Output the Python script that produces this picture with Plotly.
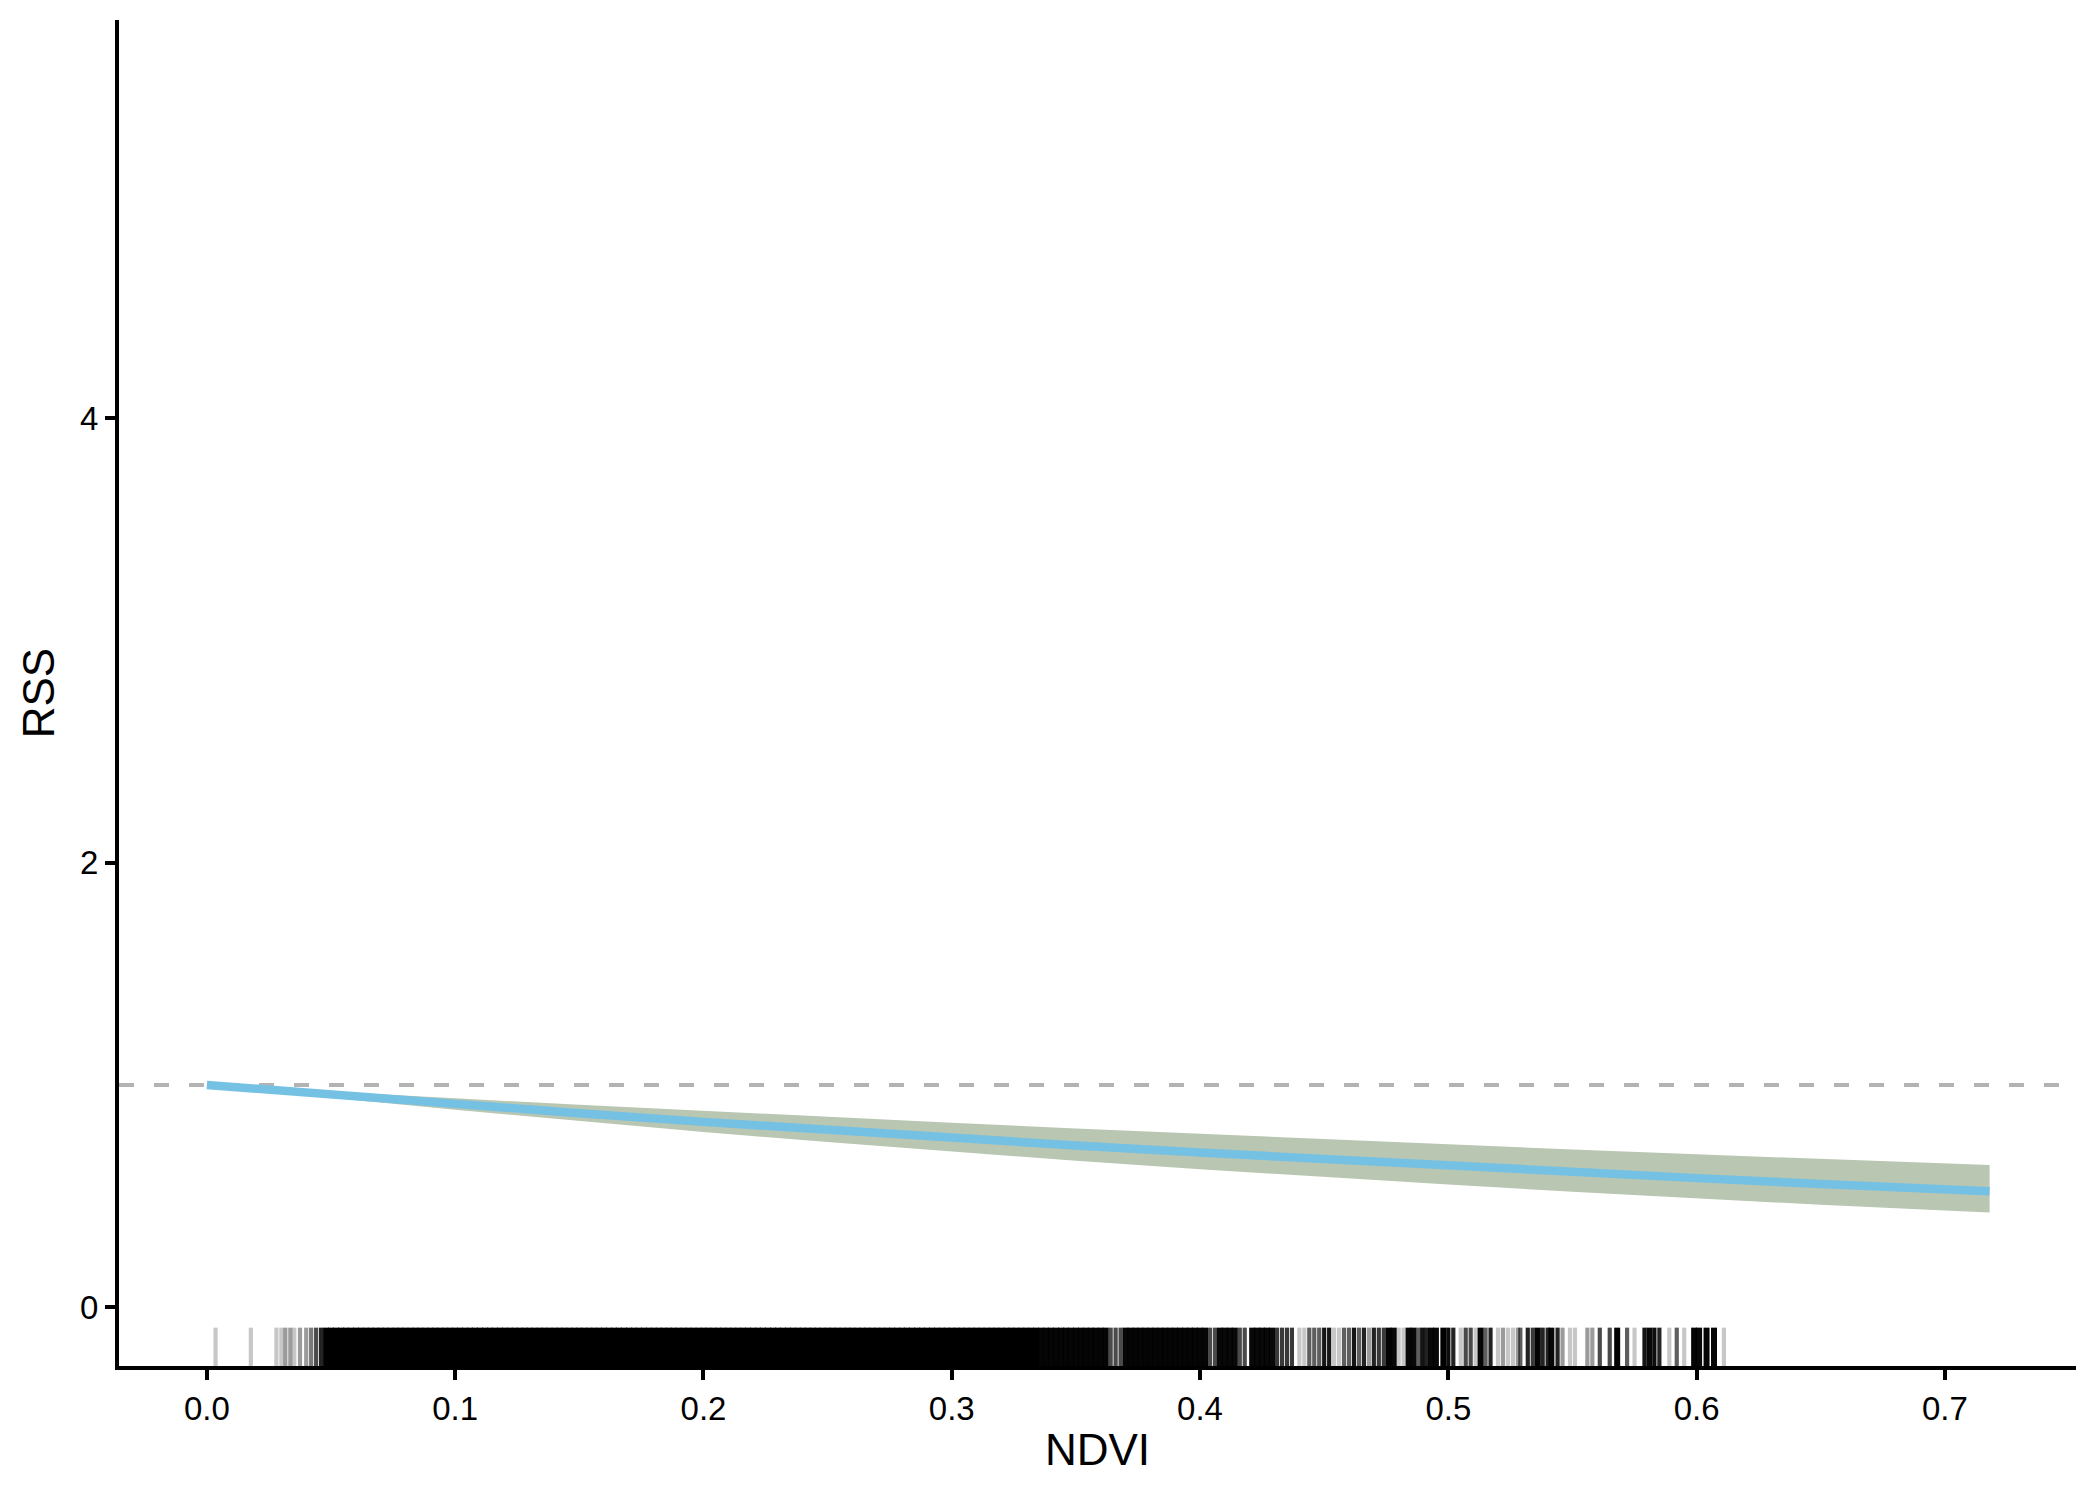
import numpy as np
import plotly.graph_objects as go

# fitted relative selection strength along NDVI
ndvi = [0.0, 0.05, 0.1, 0.15, 0.2, 0.25, 0.3, 0.35, 0.4, 0.45,
        0.5, 0.55, 0.6, 0.65, 0.7, 0.718]
rss = [1.000, 0.956, 0.913, 0.873, 0.834, 0.797, 0.762, 0.728, 0.696, 0.665,
       0.636, 0.608, 0.581, 0.555, 0.530, 0.522]
rss_hi = [1.000, 0.969, 0.940, 0.911, 0.883, 0.856, 0.830, 0.804, 0.780, 0.756,
          0.733, 0.710, 0.688, 0.667, 0.647, 0.640]
rss_lo = [1.000, 0.942, 0.888, 0.837, 0.788, 0.743, 0.700, 0.659, 0.621, 0.585,
          0.552, 0.520, 0.490, 0.461, 0.435, 0.426]
ref_level = 1.0

# rug of observed NDVI values (position, number of overlapping obs)
rug_sparse_lo = [0.0035, 0.0177, 0.028, 0.030, 0.0316, 0.0336, 0.0352, 0.0375,
                 0.040, 0.042, 0.044, 0.046]
rug_sparse_lo_n = [1, 1, 1, 1, 2, 2, 1, 2, 2, 3, 5, 8]

rug_dense = [0.048, 0.050, 0.052, 0.054, 0.056, 0.058, 0.060, 0.062, 0.064, 0.066,
             0.068, 0.070, 0.072, 0.074, 0.076, 0.078, 0.080, 0.082, 0.084, 0.086,
             0.088, 0.090, 0.092, 0.094, 0.096, 0.098, 0.100, 0.102, 0.104, 0.106,
             0.108, 0.110, 0.112, 0.114, 0.116, 0.118, 0.120, 0.122, 0.124, 0.126,
             0.128, 0.130, 0.132, 0.134, 0.136, 0.138, 0.140, 0.142, 0.144, 0.146,
             0.148, 0.150, 0.152, 0.154, 0.156, 0.158, 0.160, 0.162, 0.164, 0.166,
             0.168, 0.170, 0.172, 0.174, 0.176, 0.178, 0.180, 0.182, 0.184, 0.186,
             0.188, 0.190, 0.192, 0.194, 0.196, 0.198, 0.200, 0.202, 0.204, 0.206,
             0.208, 0.210, 0.212, 0.214, 0.216, 0.218, 0.220, 0.222, 0.224, 0.226,
             0.228, 0.230, 0.232, 0.234, 0.236, 0.238, 0.240, 0.242, 0.244, 0.246,
             0.248, 0.250, 0.252, 0.254, 0.256, 0.258, 0.260, 0.262, 0.264, 0.266,
             0.268, 0.270, 0.272, 0.274, 0.276, 0.278, 0.280, 0.282, 0.284, 0.286,
             0.288, 0.290, 0.292, 0.294, 0.296, 0.298, 0.300, 0.302, 0.304, 0.306,
             0.308, 0.310, 0.312, 0.314, 0.316, 0.318, 0.320, 0.322, 0.324, 0.326,
             0.328, 0.330, 0.332, 0.334]
rug_dense_n = 30

rug_sparse_hi = [0.336, 0.338, 0.340, 0.342, 0.344, 0.346, 0.348, 0.350, 0.352, 0.354,
                 0.356, 0.358, 0.360, 0.362, 0.364, 0.366, 0.368, 0.370, 0.372, 0.374,
                 0.376, 0.378, 0.380, 0.382, 0.384, 0.386, 0.388, 0.390, 0.392, 0.394,
                 0.396, 0.398, 0.400, 0.402, 0.404, 0.406, 0.408, 0.410, 0.412, 0.414,
                 0.416, 0.418, 0.421, 0.423, 0.425, 0.427, 0.429, 0.431, 0.433, 0.435,
                 0.437, 0.440, 0.442, 0.444, 0.446, 0.448, 0.450, 0.452, 0.454, 0.456,
                 0.458, 0.460, 0.462, 0.464, 0.466, 0.468, 0.470, 0.472, 0.474, 0.476,
                 0.478, 0.480, 0.482, 0.484, 0.486, 0.488, 0.4895, 0.491, 0.493, 0.495,
                 0.498, 0.500, 0.502, 0.505, 0.507, 0.509, 0.511, 0.513, 0.515, 0.517,
                 0.520, 0.522, 0.524, 0.526, 0.528, 0.529, 0.532, 0.534, 0.536, 0.538,
                 0.540, 0.5415, 0.544, 0.546, 0.549, 0.551, 0.556, 0.558, 0.561, 0.565,
                 0.568, 0.572, 0.575, 0.579, 0.581, 0.583, 0.585, 0.589, 0.592, 0.595,
                 0.599, 0.601, 0.604, 0.607, 0.611]
rug_sparse_hi_n = [16, 16, 16, 16, 16, 16, 16, 16, 16, 16,
                   16, 16, 16, 16, 5, 5, 5, 16, 16, 16,
                   16, 16, 16, 16, 16, 16, 16, 16, 16, 16,
                   16, 16, 16, 16, 5, 5, 14, 14, 14, 14,
                   5, 5, 14, 14, 14, 14, 14, 6, 6, 6,
                   6, 1, 1, 4, 4, 4, 10, 10, 1, 1,
                   4, 4, 10, 4, 8, 2, 8, 6, 6, 18,
                   14, 1, 1, 14, 14, 4, 10, 8, 14, 14,
                   24, 12, 8, 1, 5, 5, 1, 16, 4, 8,
                   1, 2, 1, 1, 2, 4, 8, 6, 18, 8,
                   8, 14, 8, 2, 1, 1, 2, 2, 5, 5,
                   18, 4, 1, 10, 14, 12, 8, 1, 4, 1,
                   16, 14, 16, 16, 1]

rug_x = rug_sparse_lo + rug_dense + rug_sparse_hi
rug_n = rug_sparse_lo_n + [rug_dense_n] * len(rug_dense) + rug_sparse_hi_n

X_RANGE = [-0.0354, 0.7528]
Y_RANGE = [-0.264, 5.79]
# page body keeps its default 8px margin, so the figure is 16px smaller
W, H = 2084, 1484
M = dict(l=111, r=16, t=12, b=126)
FONT = "Liberation Sans, Arial, Helvetica, sans-serif"

plot_h = H - M["t"] - M["b"]
rug_frac = 0.0285
rug_len_px = rug_frac * plot_h
rug_y = Y_RANGE[0] + (Y_RANGE[1] - Y_RANGE[0]) * rug_frac / 2
rug_alpha = 0.22
rug_colors = [f"rgba(0,0,0,{1 - (1 - rug_alpha) ** n:.3f})" for n in rug_n]
# runs of piled-up ticks are drawn a little wider so they merge into a block
rug_widths = [6 if n >= 14 else 4.2 for n in rug_n]

fig = go.Figure()

fig.add_hline(y=ref_level, line=dict(color="#b3b3b3", width=4, dash="15px,20px"),
              layer="below")

fig.add_trace(go.Scatter(x=ndvi, y=rss_lo, mode="lines", line=dict(width=0),
                         hoverinfo="skip", showlegend=False))
fig.add_trace(go.Scatter(x=ndvi, y=rss_hi, mode="lines", line=dict(width=0),
                         fill="tonexty", fillcolor="#b9c6b2",
                         hoverinfo="skip", showlegend=False))
fig.add_trace(go.Scatter(x=ndvi, y=rss, mode="lines",
                         line=dict(color="#74c1e4", width=8.5),
                         showlegend=False))

# plotly's line-ns symbol is drawn 1.4x the marker size
fig.add_trace(go.Scatter(
    x=rug_x, y=[rug_y] * len(rug_x), mode="markers", showlegend=False,
    marker=dict(symbol="line-ns", size=rug_len_px / 1.4,
                line=dict(color=rug_colors, width=rug_widths)),
    hoverinfo="skip"))

fig.update_layout(
    width=W, height=H, margin=M,
    plot_bgcolor="white", paper_bgcolor="white",
    font=dict(family=FONT, color="black"),
    xaxis=dict(range=X_RANGE, tickvals=[0, 0.1, 0.2, 0.3, 0.4, 0.5, 0.6, 0.7],
               tickformat=".1f", showgrid=False, zeroline=False,
               showline=True, linecolor="black", linewidth=4,
               ticks="outside", ticklen=10, tickwidth=4, tickcolor="black",
               tickfont=dict(size=33, color="black"),
               title=dict(text="NDVI", font=dict(size=44), standoff=10)),
    yaxis=dict(range=Y_RANGE, tickvals=[0, 2, 4], showgrid=False, zeroline=False,
               showline=True, linecolor="black", linewidth=4,
               ticks="outside", ticklen=10, tickwidth=4, tickcolor="black",
               tickfont=dict(size=33, color="black"),
               title=dict(text="RSS", font=dict(size=44), standoff=13)),
)

fig.write_html("out.html")
